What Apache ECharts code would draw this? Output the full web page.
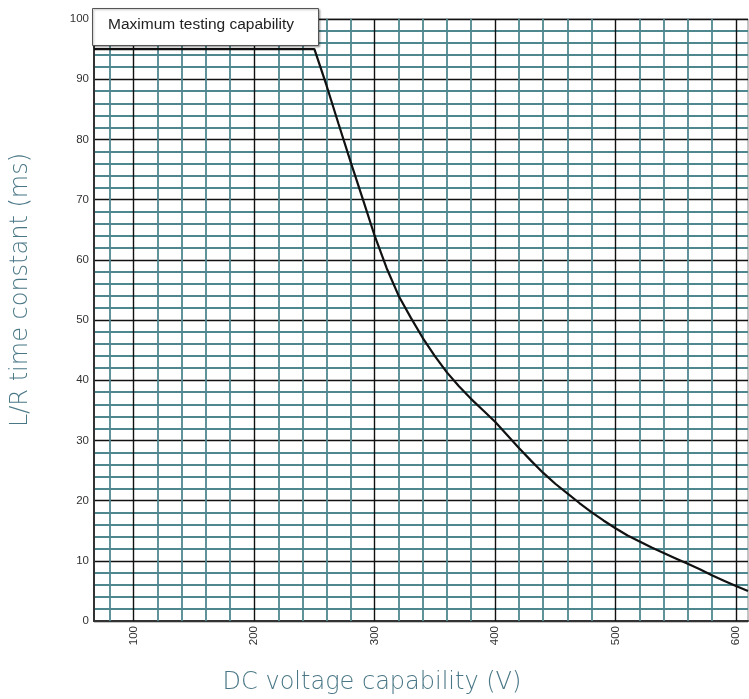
<!DOCTYPE html>
<html>
<head>
<meta charset="utf-8">
<script src="https://cdn.jsdelivr.net/npm/echarts@6/dist/echarts.min.js"></script>
<style>
  html, body { margin: 0; padding: 0; background: #fff; }
  #chart { width: 749px; height: 699px; }
</style>
</head>
<body>
<div id="chart"></div>
<script>
// DC voltage (V) vs L/R time constant (ms)
var voltage = [67, 250, 260, 270, 280, 290, 300, 310, 320, 330, 340, 350, 360, 370, 380, 390, 400, 410, 420, 430, 440, 450, 460, 470, 480, 490, 500, 510, 520, 530, 540, 550, 560, 570, 580, 590, 600, 610];
var lrTime = [95, 95, 89, 82.6, 76.3, 70.2, 64, 58.6, 54, 50.4, 47, 44, 41.3, 39, 36.9, 35, 33.1, 30.9, 28.7, 26.6, 24.6, 22.8, 21.2, 19.6, 18.1, 16.7, 15.4, 14.2, 13.2, 12.2, 11.3, 10.4, 9.5, 8.6, 7.6, 6.7, 5.8, 5.0];

var xLabels = [100, 200, 300, 400, 500, 600];
var xMinor = [80, 120, 140, 160, 180, 220, 240, 260, 280, 320, 340, 360, 380, 420, 440, 460, 480, 520, 540, 560, 580];

var teal = '#4f878f';
var tickFont = { fontFamily: 'Liberation Sans', fontSize: 11.5, color: '#333' };
var titleFont = '200 24px "DejaVu Sans"';

var gridLines = [];
xMinor.forEach(function (v) {
  gridLines.push({ xAxis: v, lineStyle: { color: teal, width: 1.8, type: 'solid' } });
});
xLabels.forEach(function (v) {
  gridLines.push({ xAxis: v, lineStyle: { color: '#111', width: 1.4, type: 'solid' } });
});

var option = {
  animation: false,
  grid: {
    left: 94,
    right: 1,
    top: 19,
    bottom: 78,
    show: true,
    borderColor: '#888',
    borderWidth: 1
  },
  xAxis: {
    type: 'value',
    min: 67,
    max: 610,
    axisLine: { show: true, lineStyle: { color: '#333', width: 2 } },
    axisTick: { show: false, customValues: xLabels },
    splitLine: { show: false },
    axisLabel: Object.assign({ rotate: 90, margin: 5, customValues: xLabels }, tickFont)
  },
  yAxis: {
    type: 'value',
    min: 0,
    max: 100,
    interval: 10,
    axisLine: { show: true, lineStyle: { color: '#333', width: 2 } },
    axisTick: { show: false },
    axisLabel: Object.assign({ margin: 5 }, tickFont),
    splitLine: { show: true, lineStyle: { color: '#111', width: 1.4 } },
    minorTick: { show: false, splitNumber: 5 },
    minorSplitLine: { show: true, lineStyle: { color: teal, width: 1.8 } }
  },
  graphic: [
    {
      type: 'text',
      x: 21,
      y: 290,
      rotation: Math.PI / 2,
      style: {
        text: 'L/R time constant (ms)',
        fill: '#4a7786',
        font: titleFont,
        align: 'center',
        verticalAlign: 'middle'
      }
    },
    {
      type: 'text',
      x: 372,
      y: 683,
      style: {
        text: 'DC voltage capability (V)',
        fill: '#4a7786',
        font: titleFont,
        align: 'center',
        verticalAlign: 'middle'
      }
    },
    {
      type: 'rect',
      left: 92,
      top: 8,
      z: 100,
      shape: { width: 226, height: 37 },
      style: {
        fill: '#fff',
        stroke: '#555',
        lineWidth: 1,
        shadowBlur: 2,
        shadowOffsetX: 1,
        shadowOffsetY: 1,
        shadowColor: 'rgba(0,0,0,0.3)'
      }
    },
    {
      type: 'text',
      left: 108,
      top: 17,
      z: 101,
      style: {
        text: 'Maximum testing capability',
        fill: '#222',
        font: '15.5px "Liberation Sans"'
      }
    }
  ],
  series: [
    {
      type: 'line',
      data: [],
      z: 1,
      silent: true,
      markLine: {
        silent: true,
        symbol: ['none', 'none'],
        label: { show: false },
        animation: false,
        data: gridLines
      }
    },
    {
      type: 'line',
      z: 5,
      data: voltage.map(function (v, i) { return [v, lrTime[i]]; }),
      showSymbol: false,
      symbol: 'none',
      smooth: false,
      lineStyle: { color: '#111', width: 2.2 }
    }
  ]
};

var myChart = echarts.init(document.getElementById('chart'));
myChart.setOption(option);
window.addEventListener('resize', function () {
  myChart.resize();
});
</script>
</body>
</html>
